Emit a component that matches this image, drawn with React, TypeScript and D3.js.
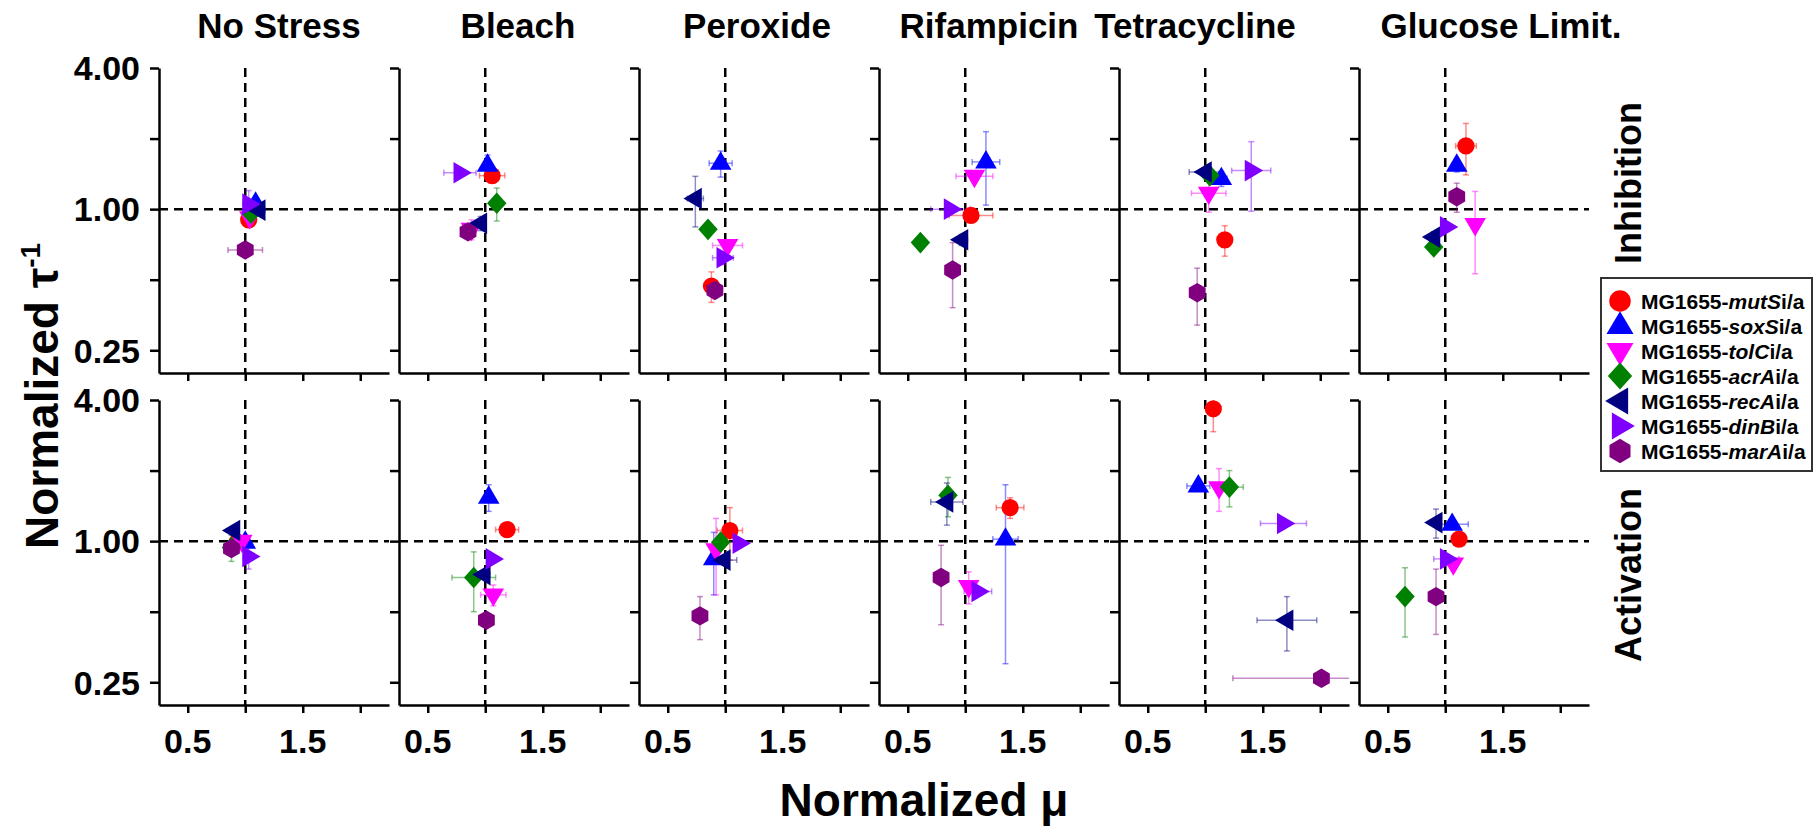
import React, { useEffect, useRef } from "react";
import * as d3 from "d3";

const conditions = ["No Stress", "Bleach", "Peroxide", "Rifampicin", "Tetracycline", "Glucose Limit."];
const modes = ["Inhibition", "Activation"];
const strains = ["mutS", "soxS", "tolC", "acrA", "recA", "dinB", "marA"];
const colors = ["#ff0000", "#0000ff", "#ff00ff", "#008000", "#000080", "#8000ff", "#800080"];
const xTicks = [0.5, 1, 1.5, 2];
const xTickLabels = [0.5, 1.5];
const yTicks = [4, 2, 1, 0.5, 0.25];
const yTickLabels = [4, 1, 0.25];

// [normalized mu, normalized 1/tau, mu error, 1/tau error], one entry per condition
const mutSInhibition = [[1.03, 0.9, 0.03, 0.03], [1.06, 1.39, 0.11, 0.04], [0.88, 0.47, 0.02, 0.07], [1.05, 0.94, 0.19, 0.02], [1.17, 0.74, 0.02, 0.11], [1.18, 1.86, 0.09, 0.46]];
const soxSInhibition = [[1.09, 1.06, 0.04, 0.04], [1.02, 1.54, 0.03, 0.16], [0.96, 1.57, 0.1, 0.2], [1.18, 1.59, 0.12, 0.55], [1.14, 1.35, 0.05, 0.1], [1.1, 1.54, 0.03, 0.1]];
const tolCInhibition = [[1.04, 0.92, 0.04, 0.04], [0.88, 0.82, 0.04, 0.08], [1.02, 0.7, 0.13, 0.02], [1.08, 1.38, 0.16, 0.03], [1.03, 1.17, 0.15, 0.2], [1.26, 0.86, 0.02, 0.33]];
const acrAInhibition = [[1.05, 0.96, 0.03, 0.03], [1.1, 1.06, 0.03, 0.17], [0.85, 0.82, 0.02, 0.02], [0.61, 0.72, 0.02, 0.02], [1.04, 1.39, 0.03, 0.1], [0.9, 0.69, 0.02, 0.02]];
const recAInhibition = [[1.12, 0.99, 0.05, 0.03], [0.96, 0.87, 0.03, 0.06], [0.74, 1.11, 0.07, 0.27], [0.97, 0.74, 0.05, 0.04], [1.0, 1.44, 0.14, 0.03], [0.9, 0.76, 0.03, 0.04]];
const dinBInhibition = [[1.03, 1.05, 0.05, 0.15], [0.78, 1.43, 0.14, 0.02], [0.98, 0.62, 0.09, 0.04], [0.87, 1.0, 0.17, 0.02], [1.4, 1.46, 0.17, 0.48], [1.01, 0.84, 0.02, 0.02]];
const marAInhibition = [[1.0, 0.67, 0.15, 0.03], [0.85, 0.8, 0.04, 0.04], [0.91, 0.45, 0.02, 0.03], [0.89, 0.55, 0.03, 0.17], [0.93, 0.44, 0.02, 0.12], [1.1, 1.13, 0.02, 0.16]];

const mutSActivation = [[0.93, 0.99, 0.03, 0.03], [1.19, 1.12, 0.1, 0.05], [1.04, 1.11, 0.11, 0.28], [1.39, 1.39, 0.12, 0.14], [1.07, 3.67, 0.02, 0.74], [1.12, 1.02, 0.03, 0.03]];
const soxSActivation = [[1.0, 0.99, 0.03, 0.03], [1.03, 1.54, 0.02, 0.2], [0.9, 0.84, 0.03, 0.25], [1.35, 1.02, 0.11, 0.72], [0.94, 1.72, 0.1, 0.08], [1.06, 1.18, 0.14, 0.03]];
const tolCActivation = [[0.97, 1.0, 0.04, 0.05], [1.07, 0.59, 0.11, 0.06], [0.92, 0.92, 0.03, 0.33], [1.03, 0.64, 0.02, 0.1], [1.12, 1.69, 0.02, 0.35], [1.07, 0.8, 0.03, 0.03]];
const acrAActivation = [[0.88, 0.94, 0.03, 0.12], [0.9, 0.7, 0.19, 0.2], [0.96, 0.99, 0.03, 0.03], [0.85, 1.57, 0.02, 0.3], [1.21, 1.7, 0.12, 0.3], [0.65, 0.58, 0.02, 0.19]];
const recAActivation = [[0.9, 1.11, 0.03, 0.03], [0.99, 0.72, 0.05, 0.03], [0.99, 0.83, 0.11, 0.03], [0.84, 1.47, 0.14, 0.3], [1.71, 0.46, 0.26, 0.12], [0.92, 1.2, 0.02, 0.17]];
const dinBActivation = [[1.03, 0.86, 0.03, 0.1], [1.06, 0.84, 0.02, 0.02], [1.12, 0.98, 0.03, 0.02], [1.11, 0.61, 0.12, 0.02], [1.68, 1.19, 0.2, 0.03], [1.01, 0.84, 0.11, 0.02]];
const marAActivation = [[0.88, 0.93, 0.02, 0.02], [1.01, 0.46, 0.02, 0.02], [0.78, 0.48, 0.02, 0.1], [0.79, 0.7, 0.04, 0.26], [2.01, 0.26, 0.77, 0.01], [0.92, 0.58, 0.05, 0.18]];

const inhibition = [mutSInhibition, soxSInhibition, tolCInhibition, acrAInhibition, recAInhibition, dinBInhibition, marAInhibition];
const activation = [mutSActivation, soxSActivation, tolCActivation, acrAActivation, recAActivation, dinBActivation, marAActivation];

const FONT = "'Liberation Sans', Arial, sans-serif";

// marker shapes, centred on 0,0
const hexagon = (r: number) =>
  d3.range(6).map((i) => {
    const a = (Math.PI / 3) * i - Math.PI / 2;
    return [r * Math.cos(a), r * Math.sin(a)];
  });
const shapes = [
  (k: number) => d3.symbol(d3.symbolCircle, 200 * k * k)(),
  (k: number) => `M0,${-11 * k}L${10 * k},${6 * k}L${-10 * k},${6 * k}Z`,
  (k: number) => `M0,${11 * k}L${10 * k},${-6 * k}L${-10 * k},${-6 * k}Z`,
  (k: number) => `M0,${-10 * k}L${9 * k},0L0,${10 * k}L${-9 * k},0Z`,
  (k: number) => `M${-11 * k},0L${6 * k},${-10 * k}L${6 * k},${10 * k}Z`,
  (k: number) => `M${11 * k},0L${-6 * k},${-10 * k}L${-6 * k},${10 * k}Z`,
  (k: number) => "M" + hexagon(9 * k).map((p) => p.join(",")).join("L") + "Z",
];

const App = () => {
  const svgRef = useRef<SVGSVGElement>(null);

  useEffect(() => {
    document.body.style.margin = "0";
    const width = 1814;
    const height = 829;
    const left0 = 159;
    const step = 240;
    const pw = 230;
    const ph = 305;
    const rowTops = [68, 400];
    const titleShift = [5, 4, 3, -5, -39, 27];

    const svg = d3
      .select(svgRef.current)
      .attr("width", width)
      .attr("height", height)
      .style("font-family", FONT)
      .style("font-weight", "bold");
    svg.selectAll("*").remove();

    svg.append("rect").attr("width", width).attr("height", height).attr("fill", "#fff");

    const x = d3.scaleLinear().domain([0.25, 2.25]).range([0, pw]);
    const y = d3.scaleLog().base(2).domain([0.2, 4]).range([ph, 0]);

    const defs = svg.append("defs");
    defs
      .append("clipPath")
      .attr("id", "panel-clip")
      .append("rect")
      .attr("x", 0)
      .attr("y", 0)
      .attr("width", pw)
      .attr("height", ph);

    // titles
    svg
      .append("g")
      .selectAll("text")
      .data(conditions)
      .join("text")
      .attr("x", (d, i) => left0 + step * i + pw / 2 + titleShift[i])
      .attr("y", 38)
      .attr("text-anchor", "middle")
      .style("font-size", "35px")
      .text((d) => d);

    modes.forEach((mode, r) => {
      const rowData = r === 0 ? inhibition : activation;
      conditions.forEach((cond, c) => {
        const g = svg.append("g").attr("transform", `translate(${left0 + step * c},${rowTops[r]})`);

        // reference lines
        g.append("line")
          .attr("x1", 0)
          .attr("x2", pw)
          .attr("y1", y(1))
          .attr("y2", y(1))
          .attr("stroke", "#000")
          .attr("stroke-width", 2.5)
          .attr("stroke-dasharray", "9,6");
        g.append("line")
          .attr("x1", x(1))
          .attr("x2", x(1))
          .attr("y1", 0)
          .attr("y2", ph)
          .attr("stroke", "#000")
          .attr("stroke-width", 2.5)
          .attr("stroke-dasharray", "9,6");

        // axes
        const yAxis = g
          .append("g")
          .call(d3.axisLeft(y).tickValues(yTicks).tickSize(9).tickSizeOuter(0).tickFormat(() => ""));
        const xAxis = g
          .append("g")
          .attr("transform", `translate(0,${ph})`)
          .call(d3.axisBottom(x).tickValues(xTicks).tickSize(8).tickSizeOuter(0).tickFormat(() => ""));
        [yAxis, xAxis].forEach((a) => {
          a.select(".domain").attr("stroke-width", 2.5);
          a.selectAll(".tick line").attr("stroke-width", 2.5);
        });

        if (c === 0) {
          g.append("g")
            .selectAll("text")
            .data(yTickLabels)
            .join("text")
            .attr("x", -19)
            .attr("y", (d) => y(d))
            .attr("dy", "0.36em")
            .attr("text-anchor", "end")
            .style("font-size", "34px")
            .text((d) => d3.format(".2f")(d));
        }
        if (r === 1) {
          g.append("g")
            .selectAll("text")
            .data(xTickLabels)
            .join("text")
            .attr("x", (d) => x(d))
            .attr("y", ph + 48)
            .attr("text-anchor", "middle")
            .style("font-size", "34px")
            .text((d) => d);
        }

        const pts = rowData.map((series, s) => ({ s, v: series[c] }));

        // error bars
        const eb = g.append("g").attr("clip-path", "url(#panel-clip)");
        pts.forEach(({ s, v }) => {
          const [mx, my, ex, ey] = v;
          const e = eb
            .append("g")
            .attr("stroke", colors[s])
            .attr("stroke-opacity", 0.45)
            .attr("stroke-width", 1.5);
          const cx = x(mx);
          const cy = y(my);
          const x0 = x(mx - ex);
          const x1 = x(mx + ex);
          const y0 = y(Math.max(my - ey, 0.05));
          const y1 = y(my + ey);
          e.append("line").attr("x1", x0).attr("x2", x1).attr("y1", cy).attr("y2", cy);
          e.append("line").attr("x1", cx).attr("x2", cx).attr("y1", y0).attr("y2", y1);
          [x0, x1].forEach((xx) =>
            e.append("line").attr("x1", xx).attr("x2", xx).attr("y1", cy - 3).attr("y2", cy + 3)
          );
          [y0, y1].forEach((yy) =>
            e.append("line").attr("x1", cx - 3).attr("x2", cx + 3).attr("y1", yy).attr("y2", yy)
          );
        });

        // markers
        g.append("g")
          .selectAll("path")
          .data(pts)
          .join("path")
          .attr("transform", (d) => `translate(${x(d.v[0])},${y(d.v[1])})`)
          .attr("d", (d) => shapes[d.s](1.08))
          .attr("fill", (d) => colors[d.s]);
      });
    });

    // row labels
    const rowLabelY = [183, 575];
    svg
      .append("g")
      .selectAll("text")
      .data(modes)
      .join("text")
      .attr("transform", (d, i) => `translate(1641,${rowLabelY[i]}) rotate(-90)`)
      .attr("text-anchor", "middle")
      .style("font-size", "36px")
      .text((d) => d);

    // axis titles
    svg
      .append("text")
      .attr("x", 924)
      .attr("y", 816)
      .attr("text-anchor", "middle")
      .style("font-size", "46px")
      .text("Normalized μ");

    const yt = svg
      .append("text")
      .attr("transform", "translate(58,396) rotate(-90)")
      .attr("text-anchor", "middle")
      .style("font-size", "46px");
    yt.append("tspan").text("Normalized τ");
    yt.append("tspan").attr("dy", -18).style("font-size", "28px").text("-1");

    // legend
    const lg = svg.append("g").attr("transform", "translate(1601,278)");
    lg.append("rect")
      .attr("width", 211)
      .attr("height", 193)
      .attr("fill", "#fff")
      .attr("stroke", "#333")
      .attr("stroke-width", 2);
    const item = lg
      .selectAll("g.item")
      .data(strains)
      .join("g")
      .attr("class", "item")
      .attr("transform", (d, i) => `translate(0,${23 + 25 * i})`);
    item
      .append("path")
      .attr("transform", "translate(19,0)")
      .attr("d", (d, i) => shapes[i](1.35))
      .attr("fill", (d, i) => colors[i]);
    const lt = item
      .append("text")
      .attr("x", 40)
      .attr("dy", "0.36em")
      .style("font-size", "21px");
    lt.append("tspan").text("MG1655-");
    lt.append("tspan").style("font-style", "italic").text((d) => d);
    lt.append("tspan").text("i/a");
  }, []);

  return (
    <div style={{ width: 1814, height: 829, background: "#fff" }}>
      <svg ref={svgRef} style={{ display: "block" }}></svg>
    </div>
  );
};

export default App;
